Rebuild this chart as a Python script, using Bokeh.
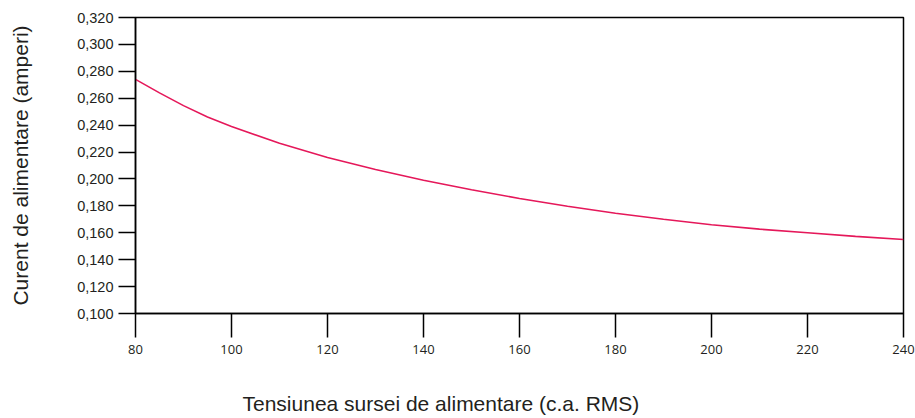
from bokeh.plotting import figure
from bokeh.models import Range1d, FixedTicker, Title
from bokeh.embed import file_html
from bokeh.resources import INLINE

# Data
voltage = [80, 85, 90, 95, 100, 110, 120, 130, 140, 150, 160, 170, 180, 190, 200, 210, 220, 230, 240]
current = [0.274, 0.264, 0.2545, 0.246, 0.239, 0.2265, 0.216, 0.207, 0.199, 0.192, 0.1855,
           0.1797, 0.1745, 0.170, 0.166, 0.1627, 0.160, 0.1573, 0.155]

x_ticks = [80, 100, 120, 140, 160, 180, 200, 220, 240]
y_ticks = [0.100, 0.120, 0.140, 0.160, 0.180, 0.200, 0.220, 0.240, 0.260, 0.280, 0.300, 0.320]
y_tick_labels = ["0,100", "0,120", "0,140", "0,160", "0,180", "0,200", "0,220",
                 "0,240", "0,260", "0,280", "0,300", "0,320"]

x_title = "Tensiunea sursei de alimentare (c.a. RMS)"
y_title = "Curent de alimentare (amperi)"

INK = "#231f20"

p = figure(width=915, height=418, output_backend="svg", toolbar_location=None,
           x_range=Range1d(80, 240), y_range=Range1d(0.100, 0.320),
           min_border_left=135, min_border_right=12, min_border_top=17, min_border_bottom=105)

p.line(voltage, current, line_color="#e5185a", line_width=1.6)

p.grid.visible = False
p.outline_line_color = "#000000"
p.outline_line_width = 1.5
p.background_fill_color = "white"
p.border_fill_color = "white"

xa = p.xaxis[0]
xa.ticker = FixedTicker(ticks=x_ticks)
xa.minor_tick_line_color = None
xa.major_tick_in = 0
xa.major_tick_out = 24
xa.major_tick_line_width = 1.5
xa.axis_line_width = 1.5
xa.axis_line_color = "#000000"
xa.major_tick_line_color = "#000000"
xa.major_label_standoff = 7
xa.major_label_text_font = "Open Sans"
xa.major_label_text_font_size = "13px"
xa.major_label_text_color = INK
# invisible spacer label to push the title down
xa.axis_label = "\u00a0"
xa.axis_label_text_font_size = "1px"
xa.axis_label_standoff = 29

ya = p.yaxis[0]
ya.ticker = FixedTicker(ticks=y_ticks)
ya.major_label_overrides = {t: l for t, l in zip(y_ticks, y_tick_labels)}
ya.minor_tick_line_color = None
ya.major_tick_in = 0
ya.major_tick_out = 17
ya.major_tick_line_width = 1.5
ya.axis_line_width = 1.5
ya.axis_line_color = "#000000"
ya.major_tick_line_color = "#000000"
ya.major_label_standoff = 5
ya.major_label_text_font = "Liberation Sans"
ya.major_label_text_font_size = "14.5px"
ya.major_label_text_color = INK
ya.axis_label = y_title
ya.axis_label_standoff = 42
ya.axis_label_text_font = "Liberation Sans"
ya.axis_label_text_font_size = "21px"
ya.axis_label_text_font_style = "normal"
ya.axis_label_text_color = INK

t = Title(text=x_title, align="left", offset=107, standoff=0,
          text_font="Liberation Sans", text_font_size="21px", text_font_style="normal",
          text_color=INK)
p.add_layout(t, "below")

open("out.html", "w").write(file_html(p, INLINE))
